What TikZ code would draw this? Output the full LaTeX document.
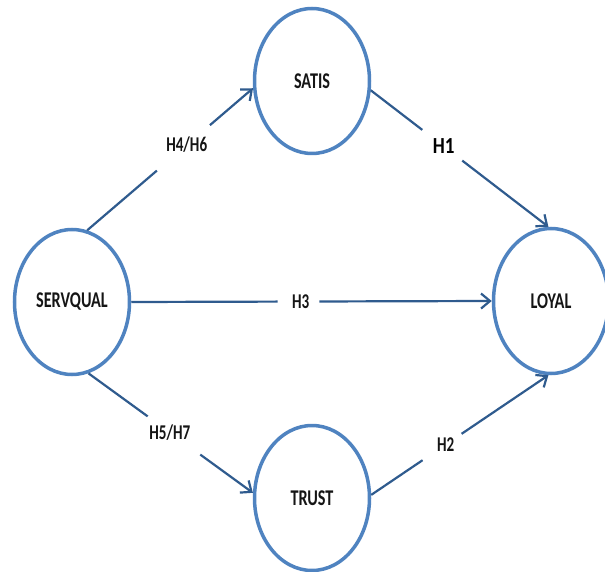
\documentclass[tikz,border=0pt]{standalone}
\usepackage{fontspec}
\newfontfamily\lblfont{Carlito}[FakeStretch=0.72]
\usetikzlibrary{shapes.geometric,arrows.meta,calc}
\definecolor{ringblue}{HTML}{4F83C0}
\definecolor{arrowblue}{HTML}{2F5B8E}
\definecolor{txt}{HTML}{151515}
\tikzset{
  oval/.style={ellipse, draw=ringblue, line width=3.5pt, minimum width=115pt, minimum height=145pt, inner sep=0pt,
    font=\lblfont\bfseries\fontsize{22.5}{22.5}\selectfont, text=txt},
  conn/.style={draw=arrowblue, line width=2.2pt},
  tipped/.style={conn, -{Straight Barb[length=9pt,width=15pt,line width=2.2pt]}},
  lbl/.style={font=\lblfont\bfseries\fontsize{21}{21}\selectfont, text=txt, inner sep=0pt},
  lblbig/.style={font=\lblfont\bfseries\fontsize{23}{23}\selectfont, text=black, inner sep=0pt, xscale=1.15}
}
\begin{document}
\begin{tikzpicture}[x=1pt,y=-1pt]
\useasboundingbox (0,0) rectangle (605,572);
\node[oval] (satis) at (312,81) {SATIS};
\node[oval] (serv) at (72,302) {SERVQUAL};
\node[oval] (loyal) at (551,301) {LOYAL};
\node[oval] (trust) at (312,498) {TRUST};
% SERVQUAL -> SATIS
\draw[conn] (serv.78) -- ($(serv.78)!0.42!(satis.187)$);
\draw[tipped] ($(serv.78)!0.74!(satis.187)$) -- (satis.187);
\node[lbl] (h46) at ($(serv.78)!0.60!(satis.187)$) {H4/H6};
% SATIS -> LOYAL
\draw[conn] (satis.351) -- ($(satis.351)!0.29!(loyal.92)$);
\draw[tipped] ($(satis.351)!0.515!(loyal.92)$) -- (loyal.92);
\node[lblbig] (h1) at ($(satis.351)!0.41!(loyal.92)$) {H1};
% SERVQUAL -> LOYAL
\draw[conn] (serv.east) -- ($(serv.east)!0.406!(loyal.west)$);
\draw[tipped] ($(serv.east)!0.522!(loyal.west)$) -- (loyal.west);
\node[lbl] (h3) at ($(serv.east)!0.47!(loyal.west)$) {H3};
% SERVQUAL -> TRUST
\draw[conn] (serv.283) -- ($(serv.283)!0.36!(trust.175)$);
\draw[tipped] ($(serv.283)!0.68!(trust.175)$) -- (trust.175);
\node[lbl] (h57) at ($(serv.283)!0.495!(trust.175)$) {H5/H7};
% TRUST -> LOYAL
\draw[conn] (trust.3) -- ($(trust.3)!0.29!(loyal.268)$);
\draw[tipped] ($(trust.3)!0.51!(loyal.268)$) -- (loyal.268);
\node[lbl] (h2) at ($(trust.3)!0.42!(loyal.268)$) {H2};
\end{tikzpicture}
\end{document}
